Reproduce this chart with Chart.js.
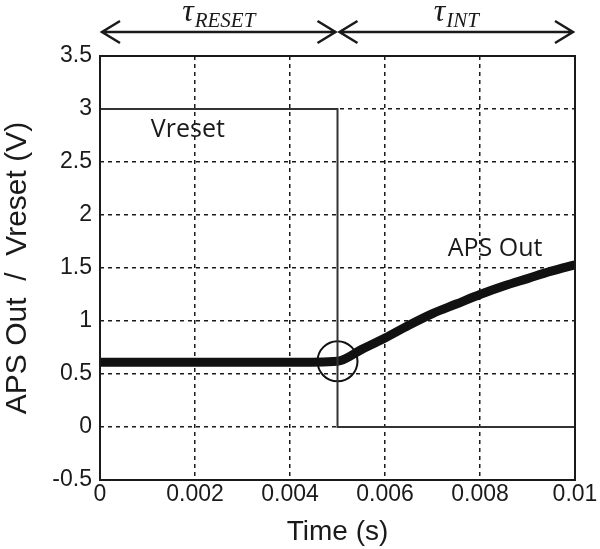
<!DOCTYPE html>
<html>
<head>
  <meta charset="utf-8">
  <title>APS Out / Vreset</title>
  <style>
    body { margin: 0; background: #fff; }
  </style>
</head>
<body>
<script src="https://cdn.jsdelivr.net/npm/chart.js@4/dist/chart.umd.min.js"></script>
<canvas id="myChart" width="600" height="549"></canvas>
<script>
  // data
  var vresetTime = [0, 0.005, 0.005, 0.01];
  var vresetVolts = [3, 3, 0, 0];

  var apsTime = [0, 0.001, 0.002, 0.003, 0.004, 0.005, 0.0055, 0.006, 0.0065, 0.007, 0.0075, 0.008, 0.0085, 0.009, 0.0095, 0.01];
  var apsVolts = [0.61, 0.61, 0.61, 0.61, 0.61, 0.62, 0.73, 0.84, 0.96, 1.07, 1.16, 1.25, 1.33, 1.40, 1.47, 1.53];

  var markTime = [0.005];
  var markVolts = [0.62];

  var xTicks = [0, 0.002, 0.004, 0.006, 0.008, 0.01];
  var xTickLabels = ['0', '0.002', '0.004', '0.006', '0.008', '0.01'];

  var phaseStart = [0, 0.005];
  var phaseEnd = [0.005, 0.01];
  var phaseName = ['RESET', 'INT'];

  function pts(xs, ys) {
    var out = [];
    for (var i = 0; i < xs.length; i++) out.push({x: xs[i], y: ys[i]});
    return out;
  }

  var ink = '#1a1a1a';

  // frame, phase arrows and the in-plot labels
  var extras = {
    id: 'extras',
    afterDraw: function(chart) {
      var ctx = chart.ctx;
      var a = chart.chartArea;
      var xs = chart.scales.x, ys = chart.scales.y;
      ctx.save();
      ctx.strokeStyle = ink;
      ctx.lineWidth = 2;
      ctx.strokeRect(a.left, a.top, a.right - a.left, a.bottom - a.top);

      // arrows on top
      var ay = 32;
      for (var i = 0; i < phaseStart.length; i++) {
        var x0 = xs.getPixelForValue(phaseStart[i]) + 2;
        var x1 = xs.getPixelForValue(phaseEnd[i]) - 2;
        ctx.lineWidth = 2.5;
        ctx.beginPath();
        ctx.moveTo(x0, ay); ctx.lineTo(x1, ay);
        ctx.moveTo(x0 + 18, ay - 11); ctx.lineTo(x0, ay); ctx.lineTo(x0 + 18, ay + 11);
        ctx.moveTo(x1 - 18, ay - 11); ctx.lineTo(x1, ay); ctx.lineTo(x1 - 18, ay + 11);
        ctx.stroke();

        var cx = (x0 + x1) / 2;
        ctx.fillStyle = ink;
        ctx.textBaseline = 'alphabetic';
        ctx.font = 'italic 32px "Liberation Serif"';
        var tw = ctx.measureText('\u03c4').width;
        ctx.font = 'italic 21px "Liberation Serif"';
        var sw = ctx.measureText(phaseName[i]).width;
        var start = cx - (tw + sw + 1) / 2;
        ctx.font = 'italic 32px "Liberation Serif"';
        ctx.textAlign = 'left';
        ctx.fillText('\u03c4', start, 21);
        ctx.font = 'italic 21px "Liberation Serif"';
        ctx.fillText(phaseName[i], start + tw + 1, 27);
      }

      ctx.font = '25px "Open Sans"';
      ctx.fillStyle = ink;
      ctx.textAlign = 'left';
      ctx.textBaseline = 'middle';
      ctx.fillText('Vreset', xs.getPixelForValue(0.00107), ys.getPixelForValue(2.8));
      ctx.fillText('APS Out', xs.getPixelForValue(0.00732), ys.getPixelForValue(1.68));
      ctx.restore();
    }
  };

  var ctx = document.getElementById('myChart');
  var myChart = new Chart(ctx, {
    type: 'scatter',
    data: {
      datasets: [
        {
          label: 'Vreset',
          data: pts(vresetTime, vresetVolts),
          showLine: true,
          borderColor: '#333',
          borderWidth: 2,
          pointRadius: 0,
          fill: false
        },
        {
          label: 'APS Out',
          data: pts(apsTime, apsVolts),
          showLine: true,
          borderColor: '#111',
          borderWidth: 9,
          cubicInterpolationMode: 'monotone',
          pointRadius: 0,
          fill: false
        },
        {
          label: 'mark',
          data: pts(markTime, markVolts),
          showLine: false,
          pointRadius: 20,
          pointBorderWidth: 2,
          pointBorderColor: '#111',
          pointBackgroundColor: 'rgba(0,0,0,0)'
        }
      ]
    },
    options: {
      responsive: false,
      animation: false,
      layout: { padding: { top: 56, right: 25, left: 0, bottom: 0 } },
      plugins: {
        legend: { display: false },
        tooltip: { enabled: false }
      },
      scales: {
        x: {
          type: 'linear',
          min: 0,
          max: 0.01,
          afterBuildTicks: function(scale) {
            scale.ticks = xTicks.map(function(v) { return {value: v}; });
          },
          afterFit: function(scale) { scale.height = 69; },
          ticks: {
            color: ink,
            font: { family: 'Arial, "Liberation Sans"', size: 23 },
            padding: 1,
            maxRotation: 0,
            callback: function(v) {
              var i = xTicks.indexOf(v);
              return i >= 0 ? xTickLabels[i] : '';
            }
          },
          grid: { color: ink, lineWidth: 1.5, tickLength: 0, drawTicks: false },
          border: { display: false, dash: [4, 4] },
          title: {
            display: true,
            text: 'Time (s)',
            color: ink,
            font: { family: 'Arial, "Liberation Sans"', size: 28 },
            padding: { top: 0, bottom: 0 }
          }
        },
        y: {
          min: -0.5,
          max: 3.5,
          afterFit: function(scale) { scale.width = 100; },
          ticks: {
            stepSize: 0.5,
            color: ink,
            font: { family: 'Arial, "Liberation Sans"', size: 23 },
            padding: 8,
            callback: function(v) { return String(v); }
          },
          grid: { color: ink, lineWidth: 1.5, drawTicks: false },
          border: { display: false, dash: [4, 4] },
          title: {
            display: true,
            text: 'APS Out  /  Vreset (V)',
            color: ink,
            font: { family: 'Arial, "Liberation Sans"', size: 30 },
            padding: { top: 0, bottom: 0 }
          }
        }
      }
    },
    plugins: [extras]
  });
</script>
</body>
</html>
